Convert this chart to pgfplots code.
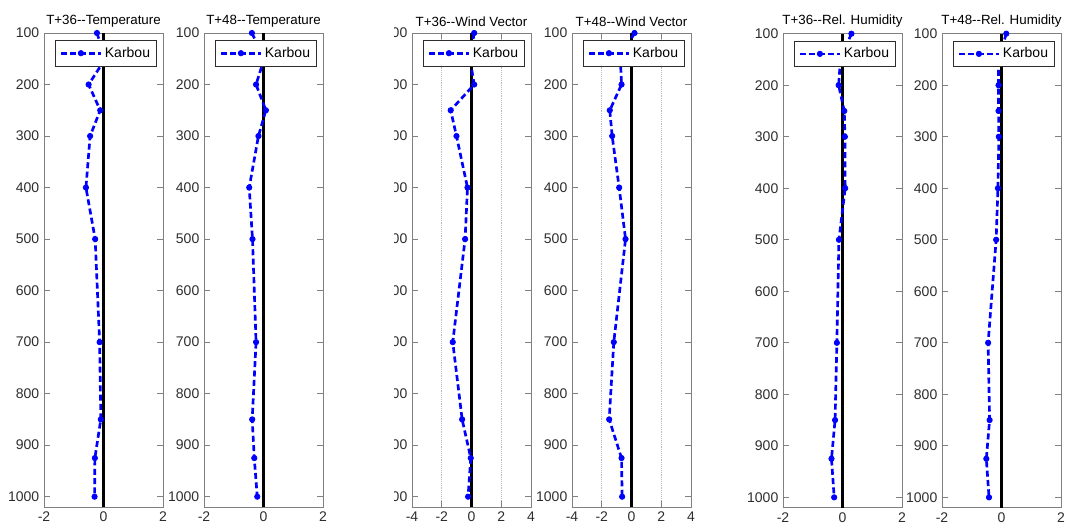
\documentclass[border=0pt]{standalone}
\usepackage{fontspec}
\setmainfont{Liberation Sans}
\usepackage{pgfplots}
\pgfplotsset{compat=1.18}
\definecolor{framegray}{RGB}{128,128,128}
\definecolor{labelgray}{RGB}{45,45,45}
\definecolor{mblue}{RGB}{0,0,255}
\pgfplotsset{
 panel/.style={
  scale only axis, width=89.25pt, height=355.5pt, anchor=north west,
  y dir=reverse, ymin=100, ymax=1020, ytick={100,200,...,1000},
  xmin=-2, xmax=2, xtick={-2,0,2},
  axis line style={framegray, line width=0.6pt},
  tick style={framegray, line width=0.6pt}, major tick length=4.5pt,
  tick label style={font=\fontsize{10.5}{12}\selectfont, text=labelgray},
  /pgf/number format/assume math mode=true,
  yticklabel style={/pgf/number format/1000 sep={}},
  title style={font=\fontsize{10}{12}\selectfont, yshift=-5pt},
  legend style={at={(axis description cs:0.95,0.985)}, anchor=north east,
    font=\fontsize{10.5}{12}\selectfont, draw=labelgray, line width=0.5pt,
    inner xsep=3pt, inner ysep=3pt, fill=white},
  legend cell align=left,
  legend image code/.code={\draw[#1, mark repeat=2, mark phase=2] plot coordinates {(0pt,0pt) (15pt,0pt) (30pt,0pt)};},
 },
 windpanel/.style={panel, xmin=-4, xmax=4, xtick={-4,-2,0,2,4},
  xmajorgrids, grid style={densely dotted, gray!55, line width=0.5pt}},
 karbou/.style={mblue, line width=2pt, dash pattern=on 4.5pt off 2.5pt,
  mark=*, mark size=2pt, mark options={solid, line width=0.6pt}},
 zeroline/.style={black, line width=2pt, forget plot},
}
\begin{document}
\begin{tikzpicture}
\useasboundingbox (0,0) rectangle (800.25pt,-393pt);

% Panel 1
\begin{axis}[panel, at={(33pt,-24.75pt)}, title={T+36-{}-Temperature}]
\addplot[zeroline] coordinates {(0,100) (0,1020)};
\addplot[karbou] coordinates {(-0.22,100) (0.06,150) (-0.50,200) (-0.11,250) (-0.45,300) (-0.59,400) (-0.28,500) (-0.13,700) (-0.09,850) (-0.29,925) (-0.30,1000)};
\addlegendentry{Karbou}
\end{axis}

% Panel 2
\begin{axis}[panel, at={(153pt,-24.75pt)}, title={T+48-{}-Temperature}]
\addplot[zeroline] coordinates {(0,100) (0,1020)};
\addplot[karbou] coordinates {(-0.39,100) (0.02,150) (-0.25,200) (0.08,250) (-0.17,300) (-0.48,400) (-0.37,500) (-0.25,700) (-0.38,850) (-0.31,925) (-0.21,1000)};
\addlegendentry{Karbou}
\end{axis}

% Panel 3 (left part of its labels cut off, as in the reference)
\begin{scope}
\clip (295.5pt,0pt) rectangle (800.25pt,-393pt);
\begin{axis}[windpanel, at={(309pt,-24.75pt)}, title={T+36-{}-Wind Vector}]
\addplot[zeroline] coordinates {(0,100) (0,1020)};
\addplot[karbou] coordinates {(0.18,100) (-0.10,150) (0.18,200) (-1.40,250) (-1.01,300) (-0.27,400) (-0.43,500) (-1.26,700) (-0.63,850) (-0.05,925) (-0.23,1000)};
\addlegendentry{Karbou}
\end{axis}
\end{scope}

% Panel 4
\begin{axis}[windpanel, at={(429pt,-24.75pt)}, title={T+48-{}-Wind Vector}]
\addplot[zeroline] coordinates {(0,100) (0,1020)};
\addplot[karbou] coordinates {(0.20,100) (-0.75,150) (-0.67,200) (-1.46,250) (-1.30,300) (-0.83,400) (-0.40,500) (-1.19,700) (-1.50,850) (-0.67,925) (-0.63,1000)};
\addlegendentry{Karbou}
\end{axis}

% Panel 5
\begin{axis}[panel, at={(587.25pt,-25.25pt)}, title={T+36-{}-Rel. Humidity}]
\addplot[zeroline] coordinates {(0,100) (0,1020)};
\addplot[karbou] coordinates {(0.30,100) (-0.07,150) (-0.13,200) (0.06,250) (0.08,300) (0.09,400) (-0.12,500) (-0.19,700) (-0.25,850) (-0.37,925) (-0.28,1000)};
\addlegendentry{Karbou}
\end{axis}

% Panel 6
\begin{axis}[panel, at={(706.5pt,-25.25pt)}, title={T+48-{}-Rel. Humidity}]
\addplot[zeroline] coordinates {(0,100) (0,1020)};
\addplot[karbou] coordinates {(0.16,100) (-0.10,150) (-0.10,200) (-0.10,250) (-0.09,300) (-0.12,400) (-0.18,500) (-0.45,700) (-0.40,850) (-0.51,925) (-0.42,1000)};
\addlegendentry{Karbou}
\end{axis}
\end{tikzpicture}
\end{document}
